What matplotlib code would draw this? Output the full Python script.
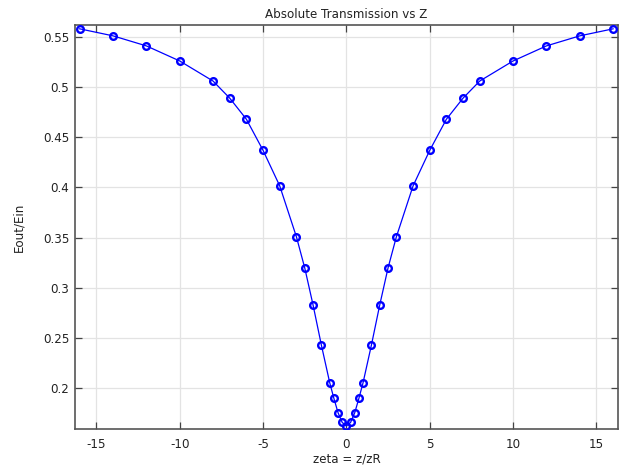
import matplotlib
matplotlib.use("Agg")
import matplotlib.pyplot as plt

zeta = [-16, -14, -12, -10, -8, -7, -6, -5, -4, -3, -2.5, -2, -1.5, -1, -0.75, -0.5, -0.25,
        0, 0.25, 0.5, 0.75, 1, 1.5, 2, 2.5, 3, 4, 5, 6, 7, 8, 10, 12, 14, 16]
half = [0.558, 0.551, 0.541, 0.526, 0.506, 0.489, 0.468, 0.437, 0.4016, 0.351, 0.320,
        0.283, 0.243, 0.2056, 0.190, 0.1757, 0.166]
center = 0.1625
trans = half + [center] + half[::-1]

xticks = [-15, -10, -5, 0, 5, 10, 15]
yticks = [0.2, 0.25, 0.3, 0.35, 0.4, 0.45, 0.5, 0.55]
ytick_labels = ["0.2", "0.25", "0.3", "0.35", "0.4", "0.45", "0.5", "0.55"]

plt.rcParams['font.family'] = ['DejaVu Sans']
fig = plt.figure(figsize=(6.19, 4.71), dpi=100)
ax = fig.add_axes([0.1212, 0.0898, 0.8768, 0.8571])

ax.plot(zeta, trans, color=(0, 0, 1), linewidth=0.9, marker='o', markersize=4.8,
        markerfacecolor='none', markeredgecolor=(0, 0, 1), markeredgewidth=1.7, zorder=3)

ax.set_xlim(-16.28, 16.28)
ax.set_ylim(0.1598, 0.5618)
ax.set_xticks(xticks)
ax.set_xticklabels([str(t) for t in xticks])
ax.set_yticks(yticks)
ax.set_yticklabels(ytick_labels)
ax.grid(True, color='#e3e3e3', linewidth=0.9)
ax.set_axisbelow(True)
ax.tick_params(direction='in', top=True, right=True, length=5, width=0.9,
               colors='#444444', labelsize=8.6, labelcolor='#222222', pad=4)
ax.tick_params(axis='x', pad=7)
for s in ax.spines.values():
    s.set_color('#555555')
    s.set_linewidth(1.2)

ax.set_title("Absolute Transmission vs Z", fontsize=8.6, color='#222222', pad=5)
ax.set_xlabel("zeta = z/zR", fontsize=8.6, color='#222222', labelpad=1)
ax.set_ylabel("Eout/Ein", fontsize=8.6, color='#222222', labelpad=13)

fig.savefig("out.png", dpi=100)
